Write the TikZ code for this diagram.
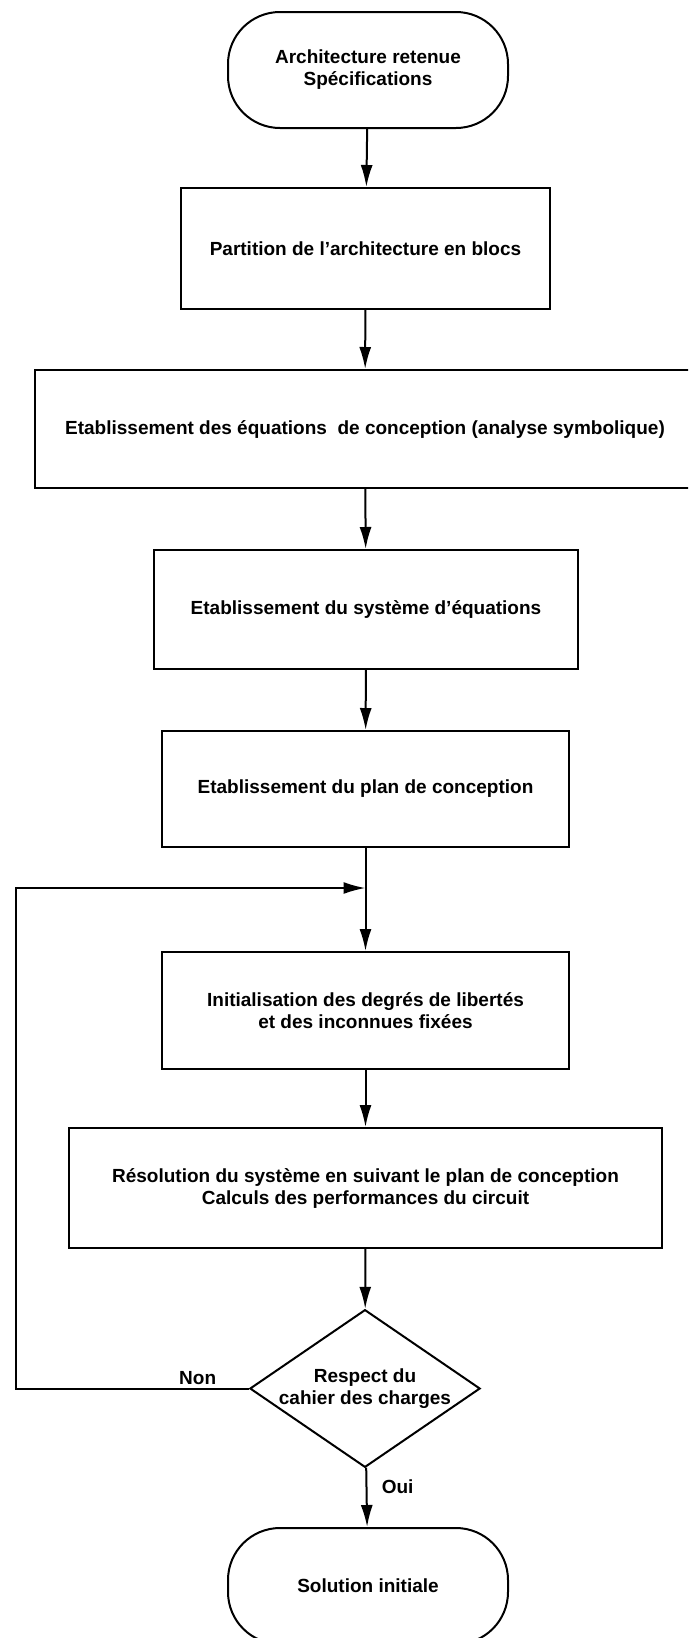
\documentclass[tikz,border=0pt]{standalone}
\usepackage{fontspec}
\setmainfont{Liberation Sans}
\usetikzlibrary{shapes.geometric,arrows.meta}

\begin{document}
\begin{tikzpicture}[x=1pt,y=-1pt,
  every node/.style={font=\fontsize{19}{22}\selectfont\bfseries,align=center},
  terminal/.style={draw,line width=2pt,rounded corners=52pt,minimum width=280pt,minimum height=116pt},
  block/.style={draw,line width=2pt,minimum height=119pt},
  decision/.style={draw,line width=2pt,diamond,aspect=1.46,inner sep=0pt,minimum width=230pt,minimum height=157pt},
  flow/.style={line width=2pt,-{Latex[length=22pt,width=12pt]}}]
% Page frame
\useasboundingbox (0,0) rectangle (688,1638);
\clip (0,0) rectangle (688,1638);

% Draw steps
\node[terminal] (start) at (368,70) {Architecture retenue\\Spécifications};
\node[block,minimum width=369pt,minimum height=121pt] (part) at (365.5,248.5) {Partition de l’architecture en blocs};
\node[block,minimum width=660pt,minimum height=118pt] (eqs) at (365,429) {Etablissement des équations~ de conception (analyse symbolique)};
\node[block,minimum width=424pt] (sys) at (366,609.5) {Etablissement du système d’équations};
\node[block,minimum width=407pt,minimum height=116pt] (plan) at (365.5,789) {Etablissement du plan de conception};
\node[block,minimum width=407pt,minimum height=117pt] (init) at (365.5,1010.5) {Initialisation des degrés de libertés\\ et des inconnues fixées};
\node[block,minimum width=593pt,minimum height=120pt] (solve) at (365.5,1188) {Résolution du système en suivant le plan de conception\\Calculs des performances du circuit};
\node[decision] (check) at (365,1388.5) {Respect du\\cahier des charges};
\node[terminal] (end) at (368,1586) {Solution initiale};

% Draw connections
\draw[flow] (start) -- (part);
\draw[flow] (part) -- (eqs);
\draw[flow] (eqs) -- (sys);
\draw[flow] (sys) -- (plan);
\draw[flow] (plan) -- (init);
\draw[flow] (init) -- (solve);
\draw[flow] (solve) -- (check);
\draw[flow] (check) -- node[right,pos=0.33,xshift=11pt] {Oui} (end);

% Loop back
\coordinate (back) at (16,1388.5);
\coordinate (entry) at (365.5,888);
\draw[flow] (check.west) -- node[above,pos=0.22,inner sep=3pt] {Non} (back) |- (entry);
\end{tikzpicture}
\end{document}
